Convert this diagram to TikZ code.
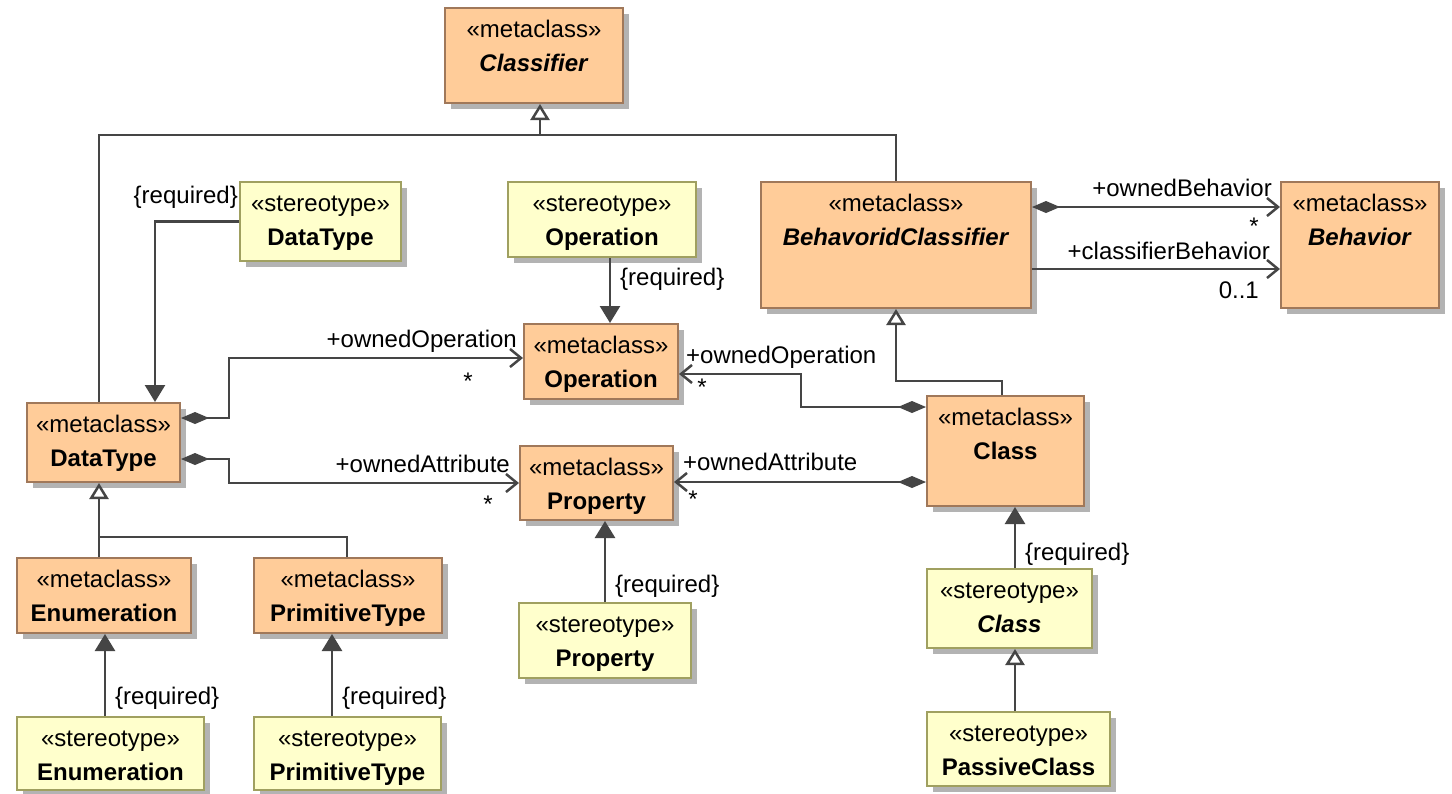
\documentclass[tikz,border=0pt]{standalone}
\usepackage{fontspec}
\setmainfont{Liberation Sans}
\usetikzlibrary{arrows.meta,shadows,calc}
\definecolor{mfill}{HTML}{FFCC99}
\definecolor{mdraw}{HTML}{A0785A}
\definecolor{sfill}{HTML}{FFFFCC}
\definecolor{sdraw}{HTML}{A0A060}
\definecolor{shd}{HTML}{B3B3B3}
\definecolor{lc}{HTML}{454545}
\tikzset{
  basebox/.style={line width=2pt, inner sep=0pt, rectangle,
    drop shadow={shadow xshift=6pt, shadow yshift=-6pt, fill=shd, opacity=1}},
  meta/.style={basebox, draw=mdraw, fill=mfill},
  ster/.style={basebox, draw=sdraw, fill=sfill},
  txt/.style={anchor=base, inner sep=0pt, font=\fontsize{24}{28}\selectfont},
  lblw/.style={txt, anchor=base west},
  lble/.style={txt, anchor=base east},
  ln/.style={draw=lc, line width=2.5pt},
  ext/.style={ln, -{Triangle[length=17pt,width=20pt]}},
  gen/.style={ln, -{Triangle[open,length=16pt,width=19pt,fill=white]}},
  cnav/.style={ln, {Diamond[length=28pt,width=12pt]}-{Straight Barb[length=11pt,width=18pt]}},
  nav/.style={ln, -{Straight Barb[length=11pt,width=18pt]}},
}
\newcommand\ubox[8]{%
  \node[#2, minimum width=#5pt, minimum height=#6pt] (#1) at (#3,#4) {};
  \node[txt] (#1-s) at ([yshift=-30pt]#1.north) {«#7»};
  \node[txt] (#1-n) at ([yshift=-64pt]#1.north) {#8};
}
\begin{document}
\begin{tikzpicture}[x=1pt,y=-1pt]
\fill[white] (0,0) rectangle (1452,793);
\useasboundingbox (0,0) rectangle (1452,793);
% boxes
\ubox{cls}{meta}{534}{55.5}{178}{95}{metaclass}{\textbf{\textit{Classifier}}}
\ubox{sdt}{ster}{320.5}{221.5}{161}{79}{stereotype}{\textbf{DataType}}
\ubox{sop}{ster}{602}{219.5}{188}{75}{stereotype}{\textbf{Operation}}
\ubox{bc}{meta}{896}{245}{270}{126}{metaclass}{\textbf{\textit{BehavoridClassifier}}}
\ubox{beh}{meta}{1360}{245}{158}{126}{metaclass}{\textbf{\textit{Behavior}}}
\ubox{dt}{meta}{103.5}{442.5}{153}{79}{metaclass}{\textbf{DataType}}
\ubox{op}{meta}{601}{361.5}{154}{75}{metaclass}{\textbf{Operation}}
\ubox{prop}{meta}{596.5}{483}{153}{74}{metaclass}{\textbf{Property}}
\ubox{cl}{meta}{1005.5}{451}{157}{110}{metaclass}{\textbf{Class}}
\ubox{enum}{meta}{104}{595.5}{174}{75}{metaclass}{\textbf{Enumeration}}
\ubox{prim}{meta}{348}{595.5}{188}{75}{metaclass}{\textbf{PrimitiveType}}
\ubox{sprop}{ster}{605}{640.5}{172}{75}{stereotype}{\textbf{Property}}
\ubox{scl}{ster}{1009.5}{608.5}{165}{79}{stereotype}{\textbf{\textit{Class}}}
\ubox{senum}{ster}{110.5}{753.5}{187}{73}{stereotype}{\textbf{Enumeration}}
\ubox{sprim}{ster}{347.5}{753.5}{187}{73}{stereotype}{\textbf{PrimitiveType}}
\ubox{spc}{ster}{1018.5}{749}{183}{74}{stereotype}{\textbf{PassiveClass}}
% generalization to Classifier
\coordinate (gj) at (540,135);
\draw[ln] ([xshift=-4.5pt]dt.north) -- (99,135) -- (896,135) -- (bc.north);
\draw[gen] (gj) -- (gj |- cls.south);
% DataType stereotype extension
\draw[ext] (sdt.west) -| ([xshift=51.5pt]dt.north);
\node[lble] (rq1) at (238,203) {\{required\}};
% DataType compositions
\draw[cnav] ([yshift=24.5pt]dt.east) -- (229,418) |- ([yshift=3.5pt]op.west);
\draw[cnav] ([yshift=-16.5pt]dt.east) -- (229,459) |- (prop.west);
\node[lble] (l1) at (517,347) {+ownedOperation};
\node[txt] (s1) at (468,389) {*};
\node[lble] (l2) at (510,472) {+ownedAttribute};
\node[txt] (s2) at (488,512) {*};
% Class compositions
\draw[cnav] ([yshift=44pt]cl.west) -- (801,407) |- ([yshift=-12.5pt]op.east);
\draw[cnav] ([yshift=-31pt]cl.west) -- ([yshift=1pt]prop.east);
\node[lblw] (l3) at (686,363) {+ownedOperation};
\node[txt] (s3) at (702,395) {*};
\node[lblw] (l4) at (683,470) {+ownedAttribute};
\node[txt] (s4) at (693,507) {*};
% Class generalization to BehavoridClassifier
\draw[gen] ([xshift=-3.5pt]cl.north) -- (1002,381) -- (896,381) -- (bc.south);
% Behavior associations
\draw[cnav] ([yshift=38pt]bc.east) -- ([yshift=38pt]beh.west);
\draw[nav] ([yshift=-24pt]bc.east) -- ([yshift=-24pt]beh.west);
\node[lble] (l5) at (1272,196) {+ownedBehavior};
\node[txt] (s5) at (1254,234) {*};
\node[lble] (l6) at (1270,259) {+classifierBehavior};
\node[lble] (l7) at (1259,298) {0..1};
% extensions
\draw[ext] ([xshift=8pt]sop.south) -- ([xshift=9pt]op.north);
\node[lblw] (rq2) at (620,285) {\{required\}};
\draw[ext] (sprop.north) -- ([xshift=8.5pt]prop.south);
\node[lblw] (rq3) at (615,592) {\{required\}};
\draw[ext] ([xshift=5.5pt]scl.north) -- ([xshift=9.5pt]cl.south);
\node[lblw] (rq4) at (1025,560) {\{required\}};
\draw[gen] ([xshift=-3.5pt]spc.north) -- ([xshift=5.5pt]scl.south);
% DataType subclasses
\coordinate (ej) at (99,537);
\draw[gen] (ej) -- (ej |- dt.south);
\draw[ln] ([xshift=-5pt]enum.north) -- (ej) -- (347,537) -- ([xshift=-1pt]prim.north);
\draw[ext] ([xshift=-5.5pt]senum.north) -- ([xshift=1pt]enum.south);
\node[lblw] (rq5) at (115,704) {\{required\}};
\draw[ext] ([xshift=-15.5pt]sprim.north) -- ([xshift=-16pt]prim.south);
\node[lblw] (rq6) at (342,704) {\{required\}};
\end{tikzpicture}
\end{document}
